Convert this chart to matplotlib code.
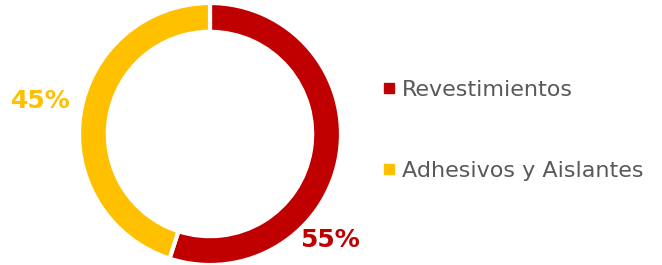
import matplotlib
matplotlib.use("Agg")
import matplotlib.pyplot as plt
from matplotlib.lines import Line2D

categories = ["Revestimientos", "Adhesivos y Aislantes"]
values = [55, 45]
labels = ["55%", "45%"]
colors = ["#C00000", "#FFC000"]

W, H = 662, 265
fig = plt.figure(figsize=(W / 100, H / 100), dpi=100)
cx, cy, r = 210, 134, 131
ax = fig.add_axes([(cx - r) / W, (H - cy - r) / H, 2 * r / W, 2 * r / H])
ax.pie(values, colors=colors, startangle=90, counterclock=False, radius=1,
       wedgeprops=dict(width=0.22, edgecolor="white", linewidth=3))
ax.set_xlim(-1, 1)
ax.set_ylim(-1, 1)
ax.set_aspect("equal")
ax.axis("off")

# percentage labels (pixel positions converted to data coords)
pos = [(330, 240), (41, 101)]
for (px, py), lab, col in zip(pos, labels, colors):
    x = (px - cx) / r
    y = (cy - py) / r
    ax.text(x, y, lab, color=col, fontsize=18, fontweight="bold",
            ha="center", va="center", clip_on=False)

handles = [Line2D([], [], marker="s", linestyle="none", markersize=6.5,
                  markerfacecolor=c, markeredgecolor=c) for c in colors]
leg = fig.legend(handles, categories, loc="upper left",
                 bbox_to_anchor=(373 / W, 1 - 71 / H), frameon=False,
                 fontsize=16, labelcolor="#595959", handlelength=0.6,
                 handletextpad=0.3, labelspacing=2.75, borderaxespad=0)

fig.savefig("out.png", dpi=100)
